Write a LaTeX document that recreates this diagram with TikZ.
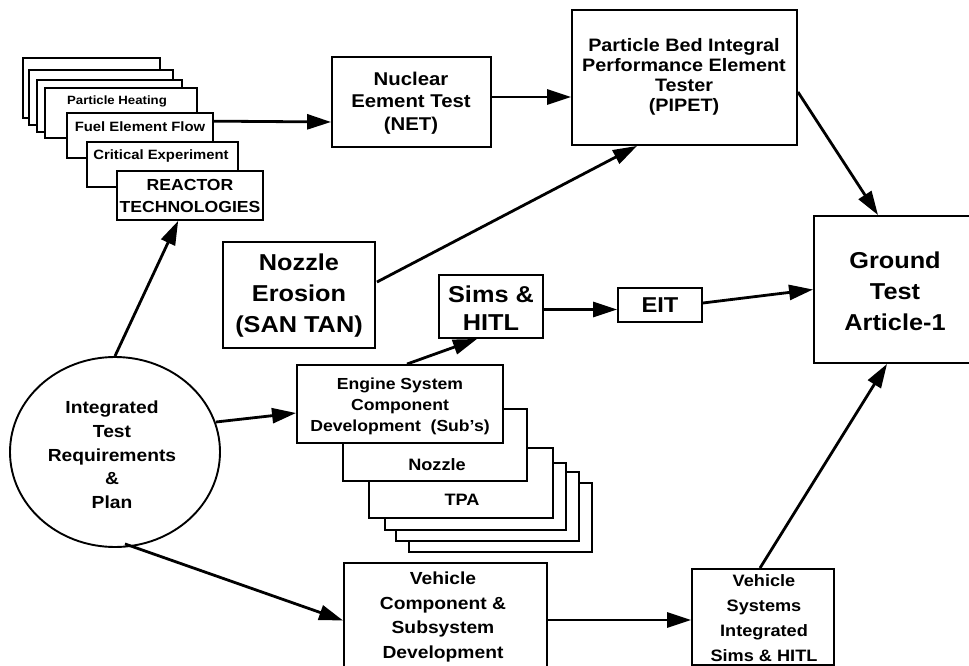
\documentclass[tikz,border=0pt]{standalone}
\usepackage{fontspec}
\setmainfont{Liberation Sans}[FakeStretch=1.1]
\usetikzlibrary{arrows.meta,calc,shapes.geometric}
\newcommand{\fsz}[2]{\bfseries\fontsize{#1}{#2}\selectfont}
\tikzset{
  box/.style={draw=black, line width=1.9pt, fill=white, inner sep=0pt, rectangle},
  card/.style={box, line width=1.7pt},
  txt/.style={align=center, inner sep=0pt},
  arr/.style={line width=2.8pt, -{Triangle[length=24pt,width=15pt]}}
}
\begin{document}
\begin{tikzpicture}[x=1pt,y=-1pt]
\useasboundingbox (0,0) rectangle (969,666);
\fill[white] (0,0) rectangle (969,666);

% reactor stack (back to front)
\node[card, minimum width=137pt, minimum height=60pt] (s1) at (91.5,88) {};
\node[card, minimum width=144pt, minimum height=55pt] (s2) at (101,97.5) {};
\node[card, minimum width=145pt, minimum height=52pt] (s3) at (109.5,106) {};
\node[card, minimum width=152pt, minimum height=50pt] (ph) at (121,113) {};
\node[txt, font=\fsz{12}{15}] (ph-t) at (117,101) {Particle Heating};
\node[card, minimum width=146pt, minimum height=45pt] (fef) at (140,135.5) {};
\node[txt, font=\fsz{13.5}{16}] (fef-t) at (140,127) {Fuel Element Flow};
\node[card, minimum width=151pt, minimum height=45pt] (crit) at (162.5,164.5) {};
\node[txt, font=\fsz{13.5}{16}] (crit-t) at (161,156) {Critical Experiment};
\node[card, minimum width=146pt, minimum height=49pt] (reactor) at (190,195.5) {};
\node[txt, font=\fsz{16}{22}] (reactor-t) at (190,196) {REACTOR\\TECHNOLOGIES};

% NET
\node[box, minimum width=159pt, minimum height=90pt] (net) at (411.5,102) {};
\node[txt, font=\fsz{18.5}{22.5}] (net-t) at (411,103) {Nuclear\\Eement Test\\(NET)};

% PIPET
\node[box, minimum width=225pt, minimum height=135pt] (pipet) at (684.5,77.5) {};
\node[txt, font=\fsz{18}{20}] (pipet-t) at (684,77) {Particle Bed Integral\\Performance Element\\Tester\\(PIPET)};

% Ground Test Article
\node[box, minimum width=161pt, minimum height=147pt] (gta) at (894.5,289.5) {};
\node[txt, font=\fsz{23}{31}] (gta-t) at (895,291) {Ground\\Test\\Article-1};

% Nozzle erosion
\node[box, minimum width=152pt, minimum height=106pt] (noz) at (299,295) {};
\node[txt, font=\fsz{23}{31}] (noz-t) at (299,296) {Nozzle\\Erosion\\(SAN TAN)};

% Sims & HITL
\node[box, minimum width=104pt, minimum height=63pt] (sims) at (491,306.5) {};
\node[txt, font=\fsz{23}{28}] (sims-t) at (491,308) {Sims \&\\HITL};

% EIT
\node[box, minimum width=84pt, minimum height=34pt] (eit) at (660,305) {};
\node[txt, font=\fsz{21.5}{26}] (eit-t) at (660,305.5) {EIT};

% Engine system stack (back to front)
\node[card, minimum width=183pt, minimum height=69pt] (e4) at (500.5,517.5) {};
\node[card, minimum width=183pt, minimum height=69pt] (e3) at (487.5,506.5) {};
\node[card, minimum width=181pt, minimum height=67pt] (e2) at (475.5,496.5) {};
\node[card, minimum width=184pt, minimum height=70pt] (tpa) at (461,483) {};
\node[txt, font=\fsz{16.5}{20}] (tpa-t) at (462,500) {TPA};
\node[card, minimum width=184pt, minimum height=72pt] (nozc) at (435,445) {};
\node[txt, font=\fsz{16.5}{20}] (nozc-t) at (437,465) {Nozzle};
\node[box, minimum width=206pt, minimum height=78pt] (engine) at (400,404) {};
\node[txt, font=\fsz{16}{21}] (engine-t) at (400,406) {Engine System\\Component\\Development~~(Sub's)};

% Plan ellipse
\node[ellipse, draw=black, line width=1.9pt, fill=white, minimum width=210pt, minimum height=190pt, inner sep=0pt] (plan) at (115,452) {};
\node[txt, font=\fsz{17.5}{23.7}] (plan-t) at (112,455) {Integrated\\Test\\Requirements\\\&\\Plan};

% Vehicle component
\node[box, minimum width=203pt, minimum height=107pt] (vcomp) at (445.5,616.5) {};
\node[txt, font=\fsz{17.5}{24.5}] (vcomp-t) at (443,617) {Vehicle\\Component \&\\Subsystem\\Development};

% Vehicle systems
\node[box, minimum width=142pt, minimum height=96pt] (vsys) at (763,617) {};
\node[txt, font=\fsz{16.5}{25}] (vsys-t) at (764,618) {Vehicle\\Systems\\Integrated\\Sims \& HITL};

% connectors
\draw[arr] (plan.north) -- ($(reactor.south west)!0.42!(reactor.south east)$);
\draw[arr] ($(plan.east)+(-5,-30)$) -- ($(engine.west)+(0,9)$);
\draw[arr] ($(plan.south)+(10,-4)$) -- ($(vcomp.west)+(0,4)$);
\draw[arr] ($(fef.north east)+(0,9)$) -- ($(net.west)+(0,20)$);
\draw[arr] ($(net.east)+(0,-5)$) -- ($(pipet.west)+(0,19.5)$);
\draw[arr] ($(pipet.east)+(0,14.5)$) -- ($(gta.north)+(-16.5,0)$);
\draw[arr] ($(noz.east)+(1,-13)$) -- ($(pipet.south)+(-47.5,0)$);
\draw[arr] ($(engine.north)+(7,0)$) -- ($(sims.south)+(-14,0)$);
\draw[arr] ($(sims.east)+(0,3)$) -- ($(eit.west)+(0,4.5)$);
\draw[arr] ($(eit.east)+(0,-2)$) -- (gta.west);
\draw[arr] ($(vcomp.east)+(0,3.5)$) -- ($(vsys.west)+(0,3)$);
\draw[arr] ($(vsys.north)+(-3,0)$) -- ($(gta.south)+(-7.5,0)$);
\end{tikzpicture}
\end{document}
